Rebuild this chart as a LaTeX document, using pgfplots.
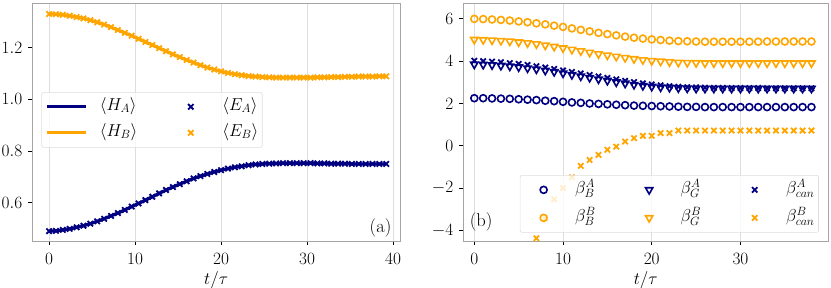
\documentclass[border=0pt]{standalone}
\usepackage{pgfplots}
\pgfplotsset{compat=1.18}
\usepackage{pgfplotstable}
\definecolor{navyc}{RGB}{0,0,128}
\definecolor{orangec}{RGB}{255,165,0}
\definecolor{gridc}{RGB}{221,221,221}
\definecolor{framec}{RGB}{165,165,165}

\pgfplotstableread{
t HA HB
0.0 0.490 1.330
0.8 0.491 1.329
1.6 0.495 1.327
2.4 0.499 1.323
3.2 0.505 1.318
4.0 0.511 1.313
4.8 0.519 1.306
5.6 0.528 1.298
6.4 0.538 1.289
7.2 0.549 1.279
8.0 0.560 1.268
8.8 0.572 1.257
9.6 0.585 1.246
10.4 0.597 1.234
11.2 0.610 1.222
12.0 0.623 1.210
12.8 0.636 1.198
13.6 0.649 1.186
14.4 0.661 1.174
15.2 0.672 1.163
16.0 0.683 1.152
16.8 0.694 1.142
17.6 0.703 1.132
18.4 0.711 1.123
19.2 0.719 1.115
20.0 0.726 1.108
20.8 0.732 1.102
21.6 0.737 1.097
22.4 0.741 1.093
23.2 0.745 1.090
24.0 0.748 1.088
24.8 0.750 1.086
25.6 0.751 1.085
26.4 0.752 1.084
27.2 0.753 1.084
28.0 0.753 1.084
28.8 0.753 1.084
29.6 0.753 1.084
30.4 0.753 1.084
31.2 0.752 1.085
32.0 0.752 1.085
32.8 0.751 1.086
33.6 0.751 1.086
34.4 0.751 1.087
35.2 0.750 1.087
36.0 0.750 1.088
36.8 0.750 1.088
37.6 0.750 1.088
38.4 0.750 1.089
39.2 0.750 1.089
}\leftdata

\pgfplotstableread{
t BBA BBB GA GB CA
0 2.25 6.00 3.85 5.02 4.02
1 2.25 5.99 3.84 5.01 4.00
2 2.24 5.97 3.82 4.99 3.98
3 2.23 5.95 3.79 4.97 3.95
4 2.22 5.92 3.76 4.94 3.91
5 2.20 5.88 3.72 4.90 3.87
6 2.18 5.84 3.67 4.86 3.82
7 2.16 5.79 3.62 4.81 3.76
8 2.13 5.74 3.56 4.75 3.70
9 2.11 5.68 3.50 4.69 3.63
10 2.08 5.62 3.43 4.62 3.56
11 2.05 5.55 3.36 4.55 3.49
12 2.03 5.48 3.29 4.48 3.42
13 2.00 5.41 3.22 4.41 3.35
14 1.98 5.34 3.15 4.34 3.28
15 1.96 5.28 3.08 4.28 3.21
16 1.94 5.22 3.01 4.22 3.14
17 1.92 5.16 2.95 4.16 3.07
18 1.90 5.11 2.89 4.11 3.01
19 1.89 5.07 2.84 4.06 2.95
20 1.88 5.03 2.80 4.02 2.90
21 1.87 5.00 2.77 3.99 2.86
22 1.86 4.97 2.75 3.96 2.82
23 1.85 4.95 2.73 3.94 2.79
24 1.84 4.94 2.72 3.93 2.77
25 1.84 4.93 2.71 3.92 2.76
26 1.83 4.92 2.71 3.91 2.75
27 1.83 4.92 2.71 3.91 2.74
28 1.83 4.92 2.71 3.91 2.74
29 1.83 4.92 2.71 3.91 2.73
30 1.83 4.92 2.71 3.91 2.73
31 1.83 4.92 2.71 3.91 2.73
32 1.83 4.92 2.71 3.91 2.73
33 1.83 4.93 2.71 3.91 2.72
34 1.83 4.93 2.71 3.91 2.72
35 1.83 4.93 2.71 3.91 2.72
36 1.83 4.93 2.71 3.91 2.72
37 1.83 4.93 2.71 3.91 2.72
38 1.83 4.93 2.71 3.91 2.72
}\rightdata

\pgfplotstableread{
t CB
7 -4.37
8 -3.42
9 -2.53
10 -2.00
11 -1.49
12 -0.95
13 -0.67
14 -0.43
15 -0.19
16 -0.04
17 0.20
18 0.36
19 0.47
20 0.47
21 0.60
22 0.60
23 0.72
24 0.72
25 0.72
26 0.72
27 0.72
28 0.72
29 0.72
30 0.72
31 0.72
32 0.72
33 0.72
34 0.72
35 0.72
36 0.72
37 0.72
38 0.72
}\canB

\newcommand{\fs}{\fontsize{17.5}{20}\selectfont}
\newcommand{\ft}{\fontsize{18.5}{21}\selectfont}

\pgfplotsset{
  mystyle/.style={
    scale only axis, anchor=south west,
    axis line style={framec, line width=0.9pt},
    tick align=outside, major tick length=4pt,
    tick style={black, line width=0.8pt},
    xtick pos=bottom, ytick pos=left,
    xmajorgrids, grid style={gridc, line width=0.8pt},
    tick label style={font=\ft},
    xticklabel style={yshift=-4.5pt},
    yticklabel style={xshift=-2.5pt},
    label style={font=\ft},
    xlabel={$t/\tau$},
    xlabel style={yshift=-1pt},
    legend cell align=left,
    legend style={fill=white, fill opacity=0.8, text opacity=1, draw=gridc,
      line width=0.6pt, rounded corners=2pt, font=\fs,
      inner xsep=4pt, inner ysep=6pt,
      nodes={inner sep=0pt, text height=12pt, text depth=5pt},
      /tikz/every odd column/.style={column sep=12pt},
      /tikz/every even column/.style={column sep=34pt}},
  },
  lineleg/.style={legend image code/.code={\draw[##1] (0pt,0pt) -- (39pt,0pt);}},
  markleg/.style={legend image code/.code={\path[draw=none,fill=none] (0pt,0pt) -- (39pt,0pt); \draw[##1] plot coordinates {(19.5pt,0pt)};}},
}

\begin{document}
\begin{tikzpicture}
\useasboundingbox (0,0) rectangle (831pt,288pt);
\begin{axis}[mystyle,
  at={(32.3pt,47pt)}, width=367.7pt, height=238pt,
  xmin=-1.95, xmax=40.8, ymin=0.452, ymax=1.3725,
  xtick={0,10,20,30,40}, ytick={0.6,0.8,1.0,1.2},
  yticklabel style={/pgf/number format/.cd, fixed, fixed zerofill, precision=1},
  legend columns=2,
  legend style={at={(0.0245,0.626)}, anchor=north west, row sep=9pt},
]
\addplot[navyc, line width=3.2pt, lineleg] table[x=t, y=HA] {\leftdata};
\addlegendentry{$\langle H_A\rangle$}
\addplot[navyc, only marks, mark=x, mark size=3.8pt, line width=1.8pt, markleg] table[x=t, y=HA] {\leftdata};
\addlegendentry{$\langle E_A\rangle$}
\addplot[orangec, line width=3.2pt, lineleg] table[x=t, y=HB] {\leftdata};
\addlegendentry{$\langle H_B\rangle$}
\addplot[orangec, only marks, mark=x, mark size=3.8pt, line width=1.8pt, markleg] table[x=t, y=HB] {\leftdata};
\addlegendentry{$\langle E_B\rangle$}
\node[anchor=base east, font=\ft] at (rel axis cs:0.986,0.034) {(a)};
\end{axis}

\begin{axis}[mystyle,
  at={(463.3pt,47pt)}, width=365pt, height=238pt,
  xmin=-1.24, xmax=39.9, ymin=-4.5, ymax=6.75,
  xtick={0,10,20,30}, ytick={-4,-2,0,2,4,6},
  legend columns=3,
  legend style={at={(0.974,0.035)}, anchor=south east, row sep=11pt},
]
\addplot[navyc, only marks, mark=o, mark size=3.5pt, line width=1.6pt, markleg] table[x=t, y=BBA] {\rightdata};
\addlegendentry{$\beta^A_B$}
\addplot[navyc, only marks, mark=triangle, mark size=4.2pt, line width=1.6pt, mark options={rotate=180}, markleg] table[x=t, y=GA] {\rightdata};
\addlegendentry{$\beta^A_G$}
\addplot[navyc, only marks, mark=x, mark size=3.8pt, line width=1.8pt, markleg] table[x=t, y=CA] {\rightdata};
\addlegendentry{$\beta^A_{can}$}
\addplot[orangec, only marks, mark=o, mark size=3.5pt, line width=1.6pt, markleg] table[x=t, y=BBB] {\rightdata};
\addlegendentry{$\beta^B_B$}
\addplot[orangec, only marks, mark=triangle, mark size=4.2pt, line width=1.6pt, mark options={rotate=180}, markleg] table[x=t, y=GB] {\rightdata};
\addlegendentry{$\beta^B_G$}
\addplot[orangec, only marks, mark=x, mark size=3.8pt, line width=1.8pt, markleg] table[x=t, y=CB] {\canB};
\addlegendentry{$\beta^B_{can}$}
\node[anchor=base west, font=\ft] at (rel axis cs:0.008,0.063) {(b)};
\end{axis}
\end{tikzpicture}
\end{document}
